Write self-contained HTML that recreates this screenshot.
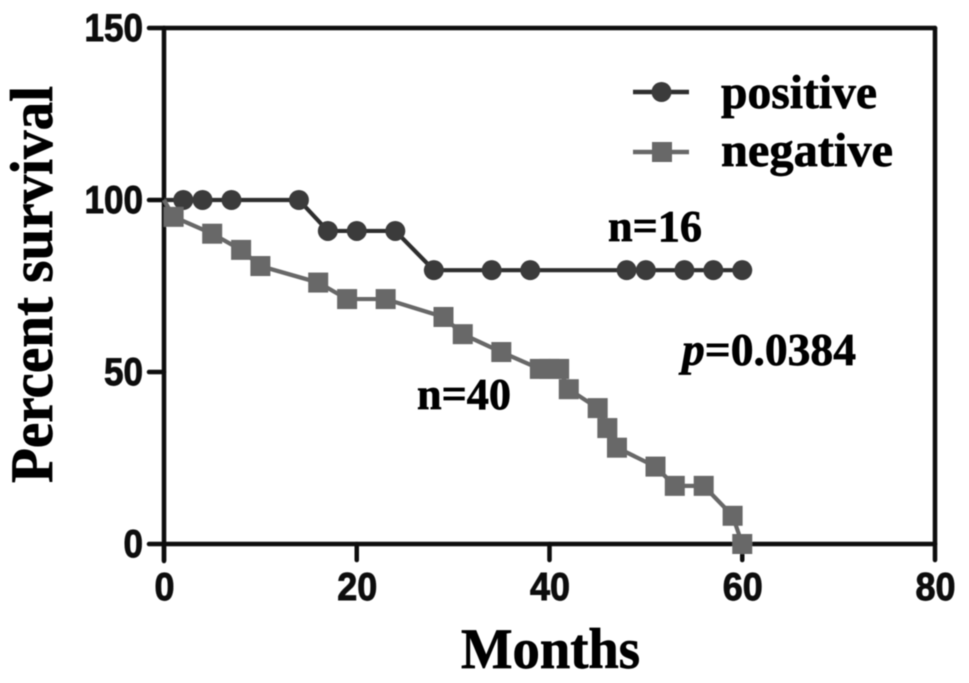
<!DOCTYPE html>
<html>
<head>
<meta charset="utf-8">
<title>Survival chart</title>
<style>
html,body{margin:0;padding:0;background:#fff;width:969px;height:683px;overflow:hidden}
svg{display:block}
.tick{font-family:"Liberation Sans",sans-serif;font-weight:bold;font-size:39px;fill:#0a0a0a;stroke:#0a0a0a;stroke-width:0.9px}
.serif{font-family:"Liberation Serif",serif;font-weight:bold;fill:#050505;stroke:#050505;stroke-width:0.7px}
</style>
</head>
<body>
<svg id="chart" xmlns="http://www.w3.org/2000/svg" width="969" height="683" viewBox="0 0 969 683">
  <defs><filter id="soft" x="-5%" y="-5%" width="110%" height="110%"><feGaussianBlur stdDeviation="0.45"/></filter></defs>
  <rect width="969" height="683" fill="#ffffff"/>
  <g id="root" filter="url(#soft)">
    <text class="serif" transform="translate(52,483) rotate(-90)" font-size="60" textLength="397" lengthAdjust="spacingAndGlyphs">Percent survival</text>
    <text class="serif" x="461" y="668" font-size="57" textLength="179" lengthAdjust="spacingAndGlyphs">Months</text>
    <text class="serif" x="721" y="108" font-size="48" textLength="156" lengthAdjust="spacingAndGlyphs">positive</text>
    <text class="serif" x="721" y="166" font-size="48" textLength="172" lengthAdjust="spacingAndGlyphs">negative</text>
    <text class="serif" x="608" y="241" font-size="44" textLength="94" lengthAdjust="spacingAndGlyphs">n=16</text>
    <text class="serif" x="417" y="409" font-size="44" textLength="94" lengthAdjust="spacingAndGlyphs">n=40</text>
    <text class="serif" x="682" y="365" font-size="45" textLength="174" lengthAdjust="spacingAndGlyphs"><tspan font-style="italic">p</tspan>=0.0384</text>
    <g id="axes"></g>
    <g id="series"></g>
    <g id="legend"></g>
  </g>
</svg>
<script>
const xTicks = [0, 20, 40, 60, 80];
const yTicks = [0, 50, 100, 150];
const positiveMonths = [0, 2, 4, 7, 14, 17, 20, 24, 28, 34, 38, 48, 50, 54, 57, 60];
const positiveSurvival = [100, 100, 100, 100, 100, 91, 91, 91, 79.6, 79.6, 79.6, 79.6, 79.6, 79.6, 79.6, 79.6];
const negativeMonths = [0, 1, 5, 8, 10, 16, 19, 23, 29, 31, 35, 39, 40, 41, 42, 45, 46, 47, 51, 53, 56, 59, 60];
const negativeSurvival = [100, 95.1, 90.2, 85.5, 80.8, 76, 71.2, 71.2, 66, 61, 55.8, 50.9, 50.9, 50.9, 45, 39.5, 33.7, 28, 22.5, 16.9, 16.9, 8.2, 0];

const NS = 'http://www.w3.org/2000/svg';
const xAxis = v => 164 + (v / 80) * 771;
const yAxis = v => 544 - (v / 150) * 516;

function make(parent, tag, props, text) {
  const el = document.createElementNS(NS, tag);
  for (const k in props) el.setAttribute(k, props[k]);
  if (text !== undefined) el.textContent = text;
  parent.appendChild(el);
  return el;
}

const axes = document.getElementById('axes');
const series = document.getElementById('series');
const legend = document.getElementById('legend');
const axisStyle = { stroke: '#0c0c0c', 'stroke-width': 4.5, 'stroke-linecap': 'round' };

const yAxisLine = make(axes, 'line', { x1: xAxis(0), y1: yAxis(150), x2: xAxis(0), y2: 561, ...axisStyle });


const xAxisLine = make(axes, 'line', { x1: xAxis(0), y1: yAxis(0), x2: xAxis(80), y2: yAxis(0), ...axisStyle });


const rightLine = make(axes, 'line', { x1: xAxis(80), y1: yAxis(150), x2: xAxis(80), y2: yAxis(0), ...axisStyle });


const topLine = make(axes, 'line', { x1: xAxis(0), y1: yAxis(150), x2: xAxis(80), y2: yAxis(150), ...axisStyle });



yTicks.forEach(v => {
  const t = make(axes, 'line', { x1: 149, y1: yAxis(v), x2: xAxis(0), y2: yAxis(v), ...axisStyle });
  
  
  const s = String(v);
  const l = make(axes, 'text', { class: 'tick', x: 143, y: yAxis(v) + 13, 'text-anchor': 'end', textLength: s.length * 19.5, lengthAdjust: 'spacingAndGlyphs' }, s);
  
  
});

xTicks.forEach(v => {
  const t = make(axes, 'line', { x1: xAxis(v), y1: yAxis(0), x2: xAxis(v), y2: 560, ...axisStyle });
  
  
  const s = String(v);
  const l = make(axes, 'text', { class: 'tick', x: xAxis(v) + 0.5, y: 600, 'text-anchor': 'middle', textLength: s.length * 20, lengthAdjust: 'spacingAndGlyphs' }, s);
  
  
});

const positiveColor = '#3b3b3b';
const negativeColor = '#686868';

const positivePoints = positiveMonths.map((m, i) => xAxis(m) + ',' + yAxis(positiveSurvival[i])).join(' ');
const positiveLine = make(series, 'polyline', { points: positivePoints, fill: 'none', stroke: '#2e2e2e', 'stroke-width': 4.2, 'stroke-linejoin': 'round' });


positiveMonths.forEach((m, i) => {
  if (i === 0) return;
  const c = make(series, 'circle', { cx: xAxis(m), cy: yAxis(positiveSurvival[i]), r: 10, fill: positiveColor });
  
  
});

const negativePoints = negativeMonths.map((m, i) => xAxis(m) + ',' + yAxis(negativeSurvival[i])).join(' ');
const negativeLine = make(series, 'polyline', { points: negativePoints, fill: 'none', stroke: negativeColor, 'stroke-width': 4.2, 'stroke-linejoin': 'round' });


negativeMonths.forEach((m, i) => {
  if (i === 0) return;
  const s = make(series, 'rect', { x: xAxis(m) - 10, y: yAxis(negativeSurvival[i]) - 10, width: 20, height: 20, fill: negativeColor });
  
  
});

const legendLineA = make(legend, 'line', { x1: 633, y1: 92, x2: 689, y2: 92, stroke: '#2e2e2e', 'stroke-width': 4.5 });


const legendCircle = make(legend, 'circle', { cx: 661.5, cy: 92, r: 10, fill: positiveColor });


const legendLineB = make(legend, 'line', { x1: 633, y1: 152, x2: 689, y2: 152, stroke: negativeColor, 'stroke-width': 4.5 });


const legendSquare = make(legend, 'rect', { x: 652, y: 142, width: 20, height: 20, fill: negativeColor });


</script>
</body>
</html>
